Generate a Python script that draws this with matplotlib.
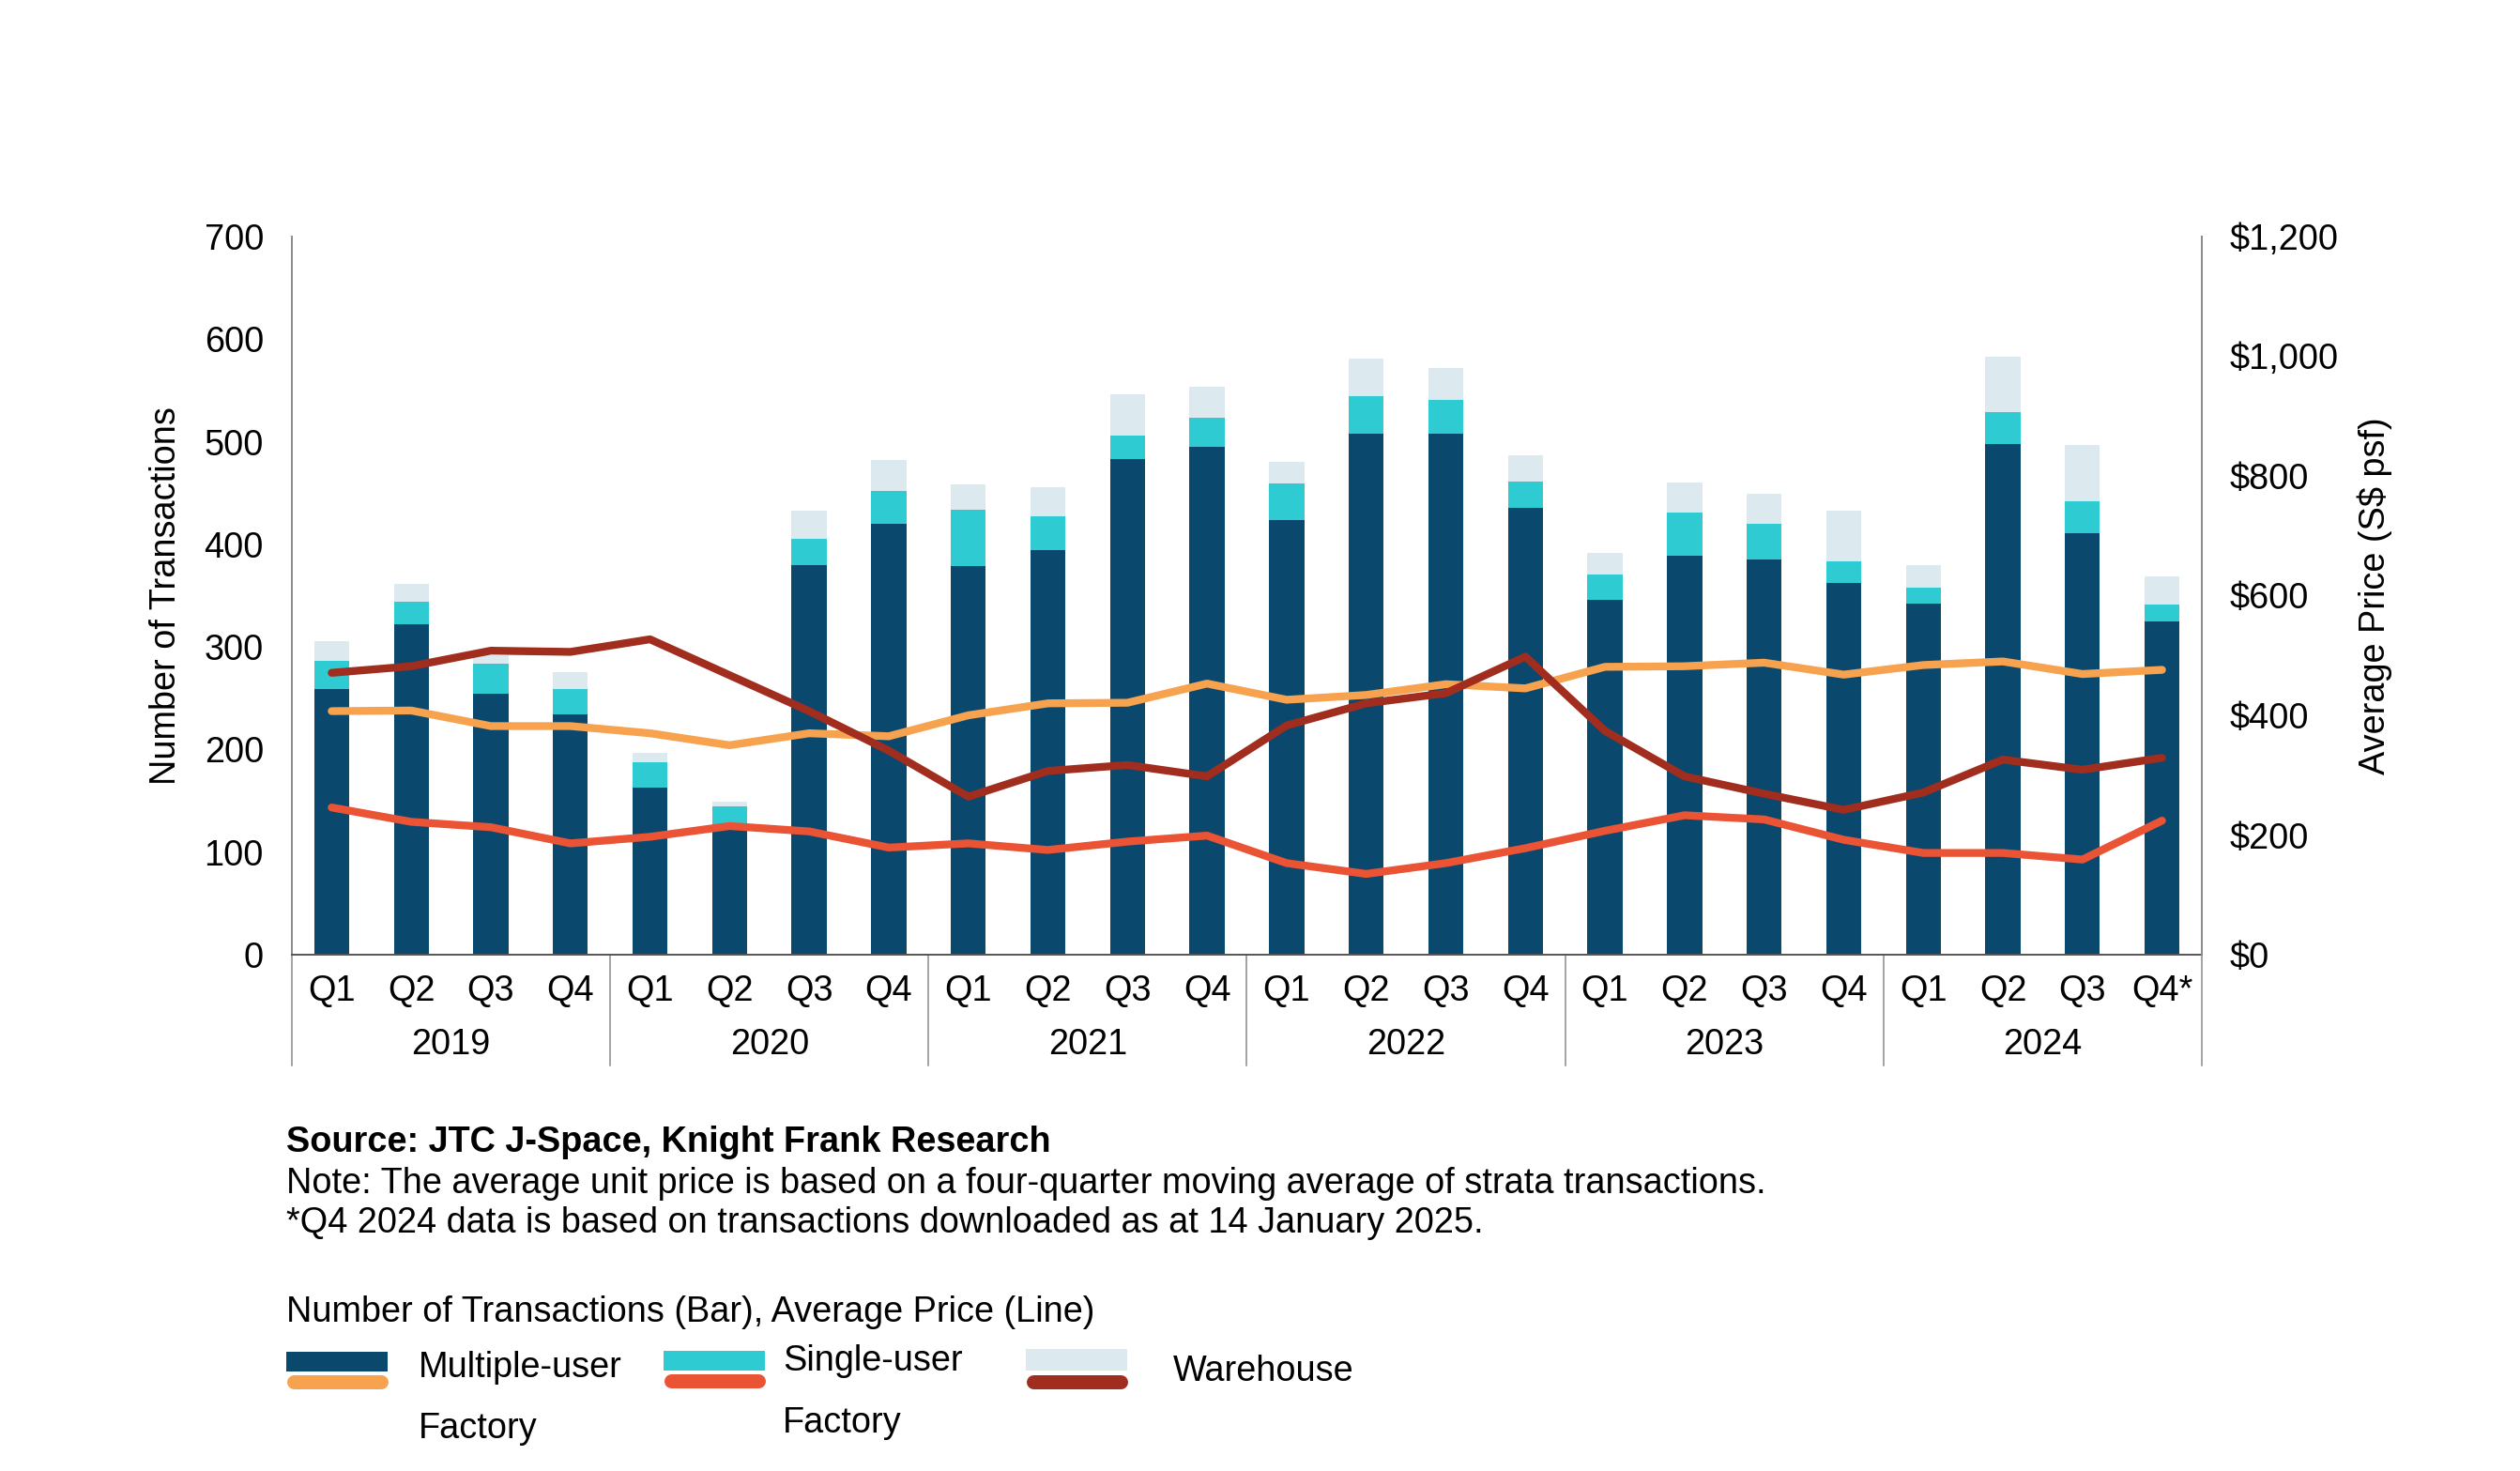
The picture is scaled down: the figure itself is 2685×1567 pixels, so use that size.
import matplotlib
matplotlib.use("Agg")
import matplotlib.pyplot as plt
from matplotlib.lines import Line2D
from matplotlib.patches import Rectangle
from matplotlib.ticker import FuncFormatter

plt.rcParams['font.family'] = ['Liberation Sans', 'DejaVu Sans']

# ---------------- data ----------------
quarters = ["Q1", "Q2", "Q3", "Q4"] * 5 + ["Q1", "Q2", "Q3", "Q4*"]
years = ["2019", "2020", "2021", "2022", "2023", "2024"]

multi_tx = [259, 322, 254, 234, 163, 126, 380, 420, 379, 394, 483, 495,
            424, 508, 508, 436, 346, 389, 385, 362, 342, 498, 411, 325]
single_tx = [27, 22, 30, 25, 25, 19, 25, 32, 55, 33, 23, 28,
             35, 36, 33, 25, 25, 42, 35, 21, 16, 31, 31, 16]
warehouse_tx = [20, 17, 8, 16, 9, 4, 28, 30, 24, 29, 40, 31,
                21, 37, 31, 26, 21, 29, 29, 50, 22, 54, 55, 28]

multi_price = [407, 408, 382, 382, 370, 350, 370, 365, 400, 420, 421, 453,
               426, 434, 452, 445, 481, 482, 488, 468, 484, 490, 469, 476]
single_price = [246, 222, 213, 186, 197, 215, 206, 179, 186, 175, 189, 199,
                153, 135, 153, 178, 207, 233, 226, 192, 170, 170, 159, 224]
warehouse_price = [471, 482, 508, 506, 527, 467, 407, 341, 264, 307, 317, 298,
                   383, 420, 437, 498, 374, 298, 269, 242, 271, 326, 309, 329]

# ---------------- style ----------------
C_NAVY = "#0B486E"
C_CYAN = "#2ECBD2"
C_LIGHT = "#DCEAEF"
C_ORANGE = "#F7A24E"
C_RED = "#EA5334"
C_DARKRED = "#A12D1E"
GRAY = "#8a8a8a"
FS = 27.3

W, H = 2685, 1567
fig = plt.figure(figsize=(W / 100, H / 100), dpi=100)

def fx(px):
    return px / W

def fy(py):
    return 1 - py / H

ax_l, ax_r, ax_t, ax_b = 311, 2346, 252, 1017
ax = fig.add_axes([fx(ax_l), fy(ax_b), fx(ax_r) - fx(ax_l), fy(ax_t) - fy(ax_b)])
ax2 = ax.twinx()
ax.set_zorder(1)
ax2.set_zorder(2)
ax.patch.set_visible(False)
ax2.patch.set_visible(False)

x = list(range(len(quarters)))
bw = 0.44
bottom2 = [m for m in multi_tx]
bottom3 = [m + s for m, s in zip(multi_tx, single_tx)]
ax.bar(x, multi_tx, width=bw, color=C_NAVY, zorder=2)
ax.bar(x, single_tx, width=bw, bottom=bottom2, color=C_CYAN, zorder=2)
ax.bar(x, warehouse_tx, width=bw, bottom=bottom3, color=C_LIGHT, zorder=2)

lw = 6
ax2.plot(x, multi_price, color=C_ORANGE, lw=lw, solid_capstyle='round', solid_joinstyle='round', zorder=3)
ax2.plot(x, single_price, color=C_RED, lw=lw, solid_capstyle='round', solid_joinstyle='round', zorder=4)
ax2.plot(x, warehouse_price, color=C_DARKRED, lw=lw, solid_capstyle='round', solid_joinstyle='round', zorder=5)

ax.set_xlim(-0.5, len(quarters) - 0.5)
ax.set_ylim(0, 700)
ax2.set_ylim(0, 1200)
ax.set_yticks(range(0, 701, 100))
ax2.set_yticks(range(0, 1201, 200))
ax2.yaxis.set_major_formatter(FuncFormatter(lambda v, p: "${:,.0f}".format(v)))

ax.set_xticks(x)
ax.set_xticklabels(quarters)
ax.tick_params(axis='x', length=0, pad=15, labelsize=FS)
ax.tick_params(axis='y', length=0, pad=21.6, labelsize=FS)
ax2.tick_params(axis='y', length=0, pad=21, labelsize=FS)

for a in (ax, ax2):
    a.spines['top'].set_visible(False)
    for s in ('left', 'right'):
        a.spines[s].set_color(GRAY)
        a.spines[s].set_linewidth(1.4)
    a.spines['bottom'].set_color("#555555")
    a.spines['bottom'].set_linewidth(1.4)
ax2.spines['left'].set_visible(False)
ax.spines['right'].set_visible(False)
ax2.spines['bottom'].set_visible(False)

# group separators and year labels
axh = ax_b - ax_t
sep_bottom = -(1135 - ax_b) / axh
year_y = -(1123 - ax_b) / axh
trans = ax.get_xaxis_transform()
for i in range(len(years) + 1):
    ax.plot([i * 4 - 0.5, i * 4 - 0.5], [0, sep_bottom], transform=trans,
            color=GRAY, lw=1.1, clip_on=False, zorder=1)
for i, yr in enumerate(years):
    ax.text(i * 4 + 1.5, year_y, yr, transform=trans, ha='center', va='baseline', fontsize=FS)

# axis titles
ax.set_ylabel("Number of Transactions", fontsize=FS, va='center', rotation_mode='default')
ax.yaxis.set_label_coords(-(ax_l - 177) / (ax_r - ax_l), 0.5)
ax2.set_ylabel("Average Price (S$ psf)", fontsize=FS, rotation=90, va='center', rotation_mode='default')
ax2.yaxis.set_label_coords(1 + (2530 - ax_r) / (ax_r - ax_l), 0.5)

# notes
fig.text(fx(305), fy(1227), "Source: JTC J-Space, Knight Frank Research", fontsize=FS,
         fontweight='bold', va='baseline', ha='left')
fig.text(fx(305), fy(1271), "Note: The average unit price is based on a four-quarter moving average of strata transactions.",
         fontsize=FS, va='baseline', ha='left')
fig.text(fx(305), fy(1313), "*Q4 2024 data is based on transactions downloaded as at 14 January 2025.",
         fontsize=FS, va='baseline', ha='left')

# custom legend
fig.text(fx(305), fy(1408), "Number of Transactions (Bar), Average Price (Line)", fontsize=FS,
         va='baseline', ha='left')

legend_items = [
    (305, 1440, 1461, 1472, C_NAVY, C_ORANGE),
    (707, 1439, 1460, 1471, C_CYAN, C_RED),
    (1093, 1437, 1460, 1472, C_LIGHT, C_DARKRED),
]
for x0, yt, yb, yl, cbar, cline in legend_items:
    fig.patches.append(Rectangle((fx(x0), fy(yb)), fx(108), fy(yt) - fy(yb),
                                 transform=fig.transFigure, facecolor=cbar, edgecolor='none'))
    fig.lines.append(Line2D([fx(x0 + 7.5), fx(x0 + 108 - 7.5)], [fy(yl), fy(yl)],
                            transform=fig.transFigure, color=cline, lw=10.8,
                            solid_capstyle='round'))

fig.text(fx(446), fy(1467), "Multiple-user", fontsize=FS, va='baseline', ha='left')
fig.text(fx(446), fy(1532), "Factory", fontsize=FS, va='baseline', ha='left')
fig.text(fx(834), fy(1460), "Single-user", fontsize=FS, va='baseline', ha='left')
fig.text(fx(834), fy(1526), "Factory", fontsize=FS, va='baseline', ha='left')
fig.text(fx(1250), fy(1471), "Warehouse", fontsize=FS, va='baseline', ha='left')

fig.savefig("out.png", dpi=100)
